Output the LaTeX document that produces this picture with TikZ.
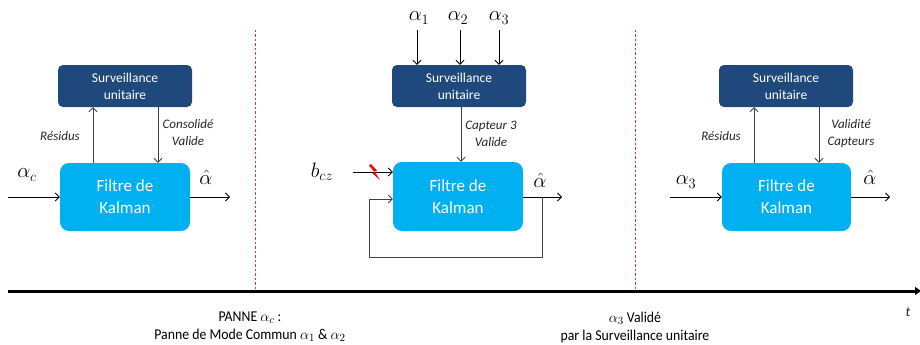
\documentclass[tikz,border=0pt]{standalone}
\usepackage{fontspec}
\setmainfont{Carlito}
\newfontfamily\condfont[FakeStretch=0.92]{Carlito}
\usetikzlibrary{arrows.meta}
\definecolor{survblue}{HTML}{1F497D}
\definecolor{kalblue}{HTML}{00B0F0}
\definecolor{lbl}{HTML}{262626}
\definecolor{dashred}{HTML}{D23C3C}
\tikzset{
  surv/.style={fill=survblue, rounded corners=5pt, text=white, minimum width=134pt, minimum height=42pt, align=center, inner sep=0pt, font=\fontsize{13.5}{17}\selectfont},
  kal/.style={fill=kalblue, rounded corners=9pt, text=white, minimum width=130pt, minimum height=68pt, align=center, inner sep=0pt, font=\fontsize{17}{22}\selectfont},
  conn/.style={draw=black!75, line width=0.8pt, -{Straight Barb[length=4pt,width=8pt]}},
  io/.style={draw=black, line width=0.8pt, -{Straight Barb[length=4pt,width=8pt]}},
  lab/.style={font=\fontsize{13}{17}\selectfont\itshape, text=lbl, align=center, inner sep=0pt},
  mlab/.style={font=\fontsize{20}{22}\selectfont, inner sep=0pt},
  sep/.style={draw=dashred, line width=0.9pt, dash pattern=on 2.5pt off 2pt},
  bot/.style={font=\condfont\fontsize{15}{18}\selectfont, align=center, inner sep=0pt},
}
\begin{document}
\begin{tikzpicture}[x=1pt,y=-1pt]
\useasboundingbox (0,0) rectangle (920,345);
% separators
\coordinate (d1t) at (255,30); \coordinate (d1b) at (255,290);
\coordinate (d2t) at (635,30); \coordinate (d2b) at (635,290);
\draw[sep] (d1t) -- (d1b);
\draw[sep] (d2t) -- (d2b);
% time axis
\coordinate (ax0) at (8,291); \coordinate (ax1) at (922,291);
\draw[line width=3pt, -{Latex[length=7pt,width=9pt]}] (ax0) -- (ax1);
\node[font=\fontsize{14}{16}\selectfont\itshape, text=lbl] (tl) at (908,312) {t};
\node[bot] (b1) at (250,327) {PANNE $\alpha_c$ :\\Panne de Mode Commun $\alpha_1$ \& $\alpha_2$};
\node[bot] (b2) at (635,327) {$\alpha_3$ Validé\\par la Surveillance unitaire};

% ---------- left block
\node[surv] (s1) at (125,86) {Surveillance\\unitaire};
\node[kal] (k1) at (125,197) {Filtre de\\Kalman};
\coordinate (x1a) at (93,0); \coordinate (x1b) at (158,0);
\draw[conn] (k1.north -| x1a) -- (s1.south -| x1a);
\draw[conn] (s1.south -| x1b) -- (k1.north -| x1b);
\node[lab] (l1a) at (60,136) {Résidus};
\node[lab] (l1b) at (188,133) {Consolidé\\Valide};
\coordinate (in1) at (8,197); \coordinate (out1) at (230,197);
\draw[io] (in1) -- (k1.west);
\draw[io] (k1.east) -- (out1);
\node[mlab] (m1) at (27,175) {$\alpha_c$};
\node[mlab] (h1) at (206,177) {$\hat{\alpha}$};

% ---------- middle block
\node[surv] (s2) at (459,86) {Surveillance\\unitaire};
\node[kal, minimum height=69pt] (k2) at (458,196.5) {Filtre de\\Kalman};
\coordinate (a1) at (417,30); \coordinate (a2) at (460,30); \coordinate (a3) at (499,30);
\draw[io] (a1) -- (s2.north -| a1);
\draw[io] (a2) -- (s2.north -| a2);
\draw[io] (a3) -- (s2.north -| a3);
\node[mlab] (ma1) at (419,18) {$\alpha_1$};
\node[mlab] (ma2) at (458,18) {$\alpha_2$};
\node[mlab] (ma3) at (499,18) {$\alpha_3$};
\coordinate (x2) at (461,0);
\draw[conn] (s2.south -| x2) -- (k2.north -| x2);
\node[lab] (l2) at (491,134) {Capteur 3\\Valide};
\coordinate (bin) at (353,172);
\draw[io] (bin) -- (bin -| k2.west);
\node[mlab] (mb) at (322,172) {$b_{cz}$};
\fill[red] (371,164) -- (377,170.5) -- (374.5,171.5) -- (380,180) -- (372,173) -- (374.5,172) -- (369,165.5) -- cycle;
\coordinate (out2) at (562,197); \coordinate (fb) at (542,197);
\coordinate (fb1) at (542,257); \coordinate (fb2) at (369,257); \coordinate (fb3) at (369,199);
\draw[io] (k2.east |- out2) -- (out2);
\draw[draw=black!75, line width=0.8pt] (fb) -- (fb1) -- (fb2) -- (fb3);
\draw[conn] (fb3) -- (fb3 -| k2.west);
\node[mlab] (h2) at (540,180) {$\hat{\alpha}$};

% ---------- right block
\node[surv] (s3) at (786,86) {Surveillance\\unitaire};
\node[kal, minimum width=129pt] (k3) at (786.5,197) {Filtre de\\Kalman};
\coordinate (x3a) at (754,0); \coordinate (x3b) at (819,0);
\draw[conn] (k3.north -| x3a) -- (s3.south -| x3a);
\draw[conn] (s3.south -| x3b) -- (k3.north -| x3b);
\node[lab] (l3a) at (721,136) {Résidus};
\node[lab] (l3b) at (851,134) {Validité\\Capteurs};
\coordinate (in3) at (670,197); \coordinate (out3) at (890,197);
\draw[io] (in3) -- (k3.west);
\draw[io] (k3.east) -- (out3);
\node[mlab] (m3) at (686,182) {$\alpha_3$};
\node[mlab] (h3) at (870,177) {$\hat{\alpha}$};
\end{tikzpicture}
\end{document}
